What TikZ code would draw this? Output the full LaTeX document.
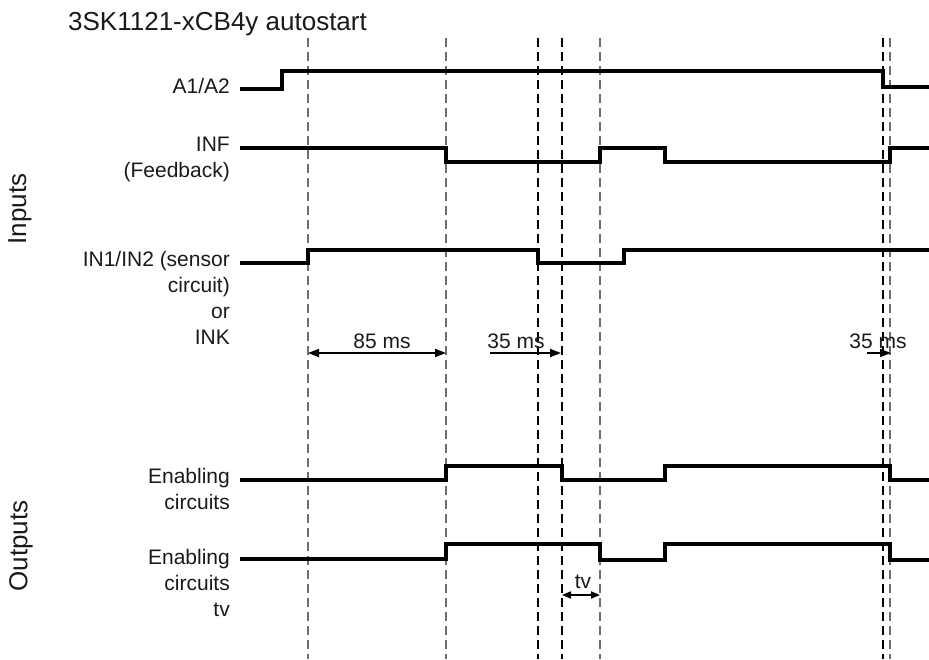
\documentclass[tikz,border=0pt]{standalone}
\usepackage{fontspec}
\setmainfont{Liberation Sans}
\usetikzlibrary{arrows.meta}
\definecolor{figink}{HTML}{1A1A1A}
\definecolor{figgrey}{HTML}{6E6E6E}

\begin{document}
\begin{tikzpicture}[
  x=1pt,y=-1pt,
  draw=black,text=figink,
  line cap=butt,line join=miter,
  >={Triangle[length=11pt,width=8pt]},
  sigline/.style={line width=3.6pt},
  guide/.style={line width=1.3pt,dash pattern=on 9pt off 5pt,draw=figgrey},
  guidedk/.style={guide,draw=black},
  dim/.style={line width=1.7pt},
  lbl/.style={font=\fontsize{21}{25.8}\selectfont,align=right,
    anchor=base east,inner sep=0pt},
  dimlbl/.style={font=\fontsize{21}{25}\selectfont,anchor=base,inner sep=0pt},
  side/.style={font=\fontsize{26}{30}\selectfont,rotate=90,inner sep=0pt}
]
\useasboundingbox (0,0) rectangle (929,659);

\node[anchor=base west,font=\fontsize{26}{30}\selectfont,inner sep=0pt]
  (title) at (68,30) {3SK1121-xCB4y autostart};

% Time marks
\foreach \tx/\st in {308/guide,446/guide,538/guidedk,562/guidedk,
                     600/guide,883/guidedk,890/guide}
  \draw[\st] (\tx,38) -- (\tx,659);

% Group labels
\node[side] (inputs) at (20,209) {Inputs};
\node[side] (outputs) at (21,546) {Outputs};

% Signal names (base anchor sits on the last line)
\node[lbl] (a1a2) at (230,93.5) {A1/A2};
\node[lbl] (inf) at (230,177.5) {INF\\(Feedback)};
\node[lbl] (in12) at (230,344) {IN1/IN2 (sensor\\circuit)\\or\\INK};
\node[lbl] (en) at (230,509) {Enabling\\circuits};
\node[lbl] (entv) at (230,616) {Enabling\\circuits\\tv};

% Waveforms
\draw[sigline] (240,89) -- (282,89) -- (282,71) -- (883,71) -- (883,87)
  -- (929,87);
\draw[sigline] (240,148) -- (446,148) -- (446,162) -- (600,162) -- (600,148)
  -- (665,148) -- (665,162) -- (890,162) -- (890,148) -- (929,148);
\draw[sigline] (240,263) -- (308,263) -- (308,250) -- (538,250) -- (538,263)
  -- (624,263) -- (624,250) -- (929,250);
\draw[sigline] (240,480) -- (446,480) -- (446,466) -- (562,466) -- (562,480)
  -- (665,480) -- (665,466) -- (890,466) -- (890,480) -- (929,480);
\draw[sigline] (240,559) -- (446,559) -- (446,544) -- (600,544) -- (600,560)
  -- (665,560) -- (665,544) -- (890,544) -- (890,560) -- (929,560);

% Delays
\draw[dim,<->] (308,353) -- (446,353);
\node[dimlbl] (d85) at (382,348) {85 ms};
\draw[dim,->] (490,353) -- (561,353);
\node[dimlbl] (d35a) at (516,348) {35 ms};
\draw[dim,->] (867,353) -- (891,353);
\node[dimlbl] (d35b) at (878,348) {35 ms};
\draw[dim,<->,>={Triangle[length=9pt,width=7pt]}] (562,595) -- (600,595);
\node[dimlbl] (tv) at (583,588) {tv};

\end{tikzpicture}
\end{document}
